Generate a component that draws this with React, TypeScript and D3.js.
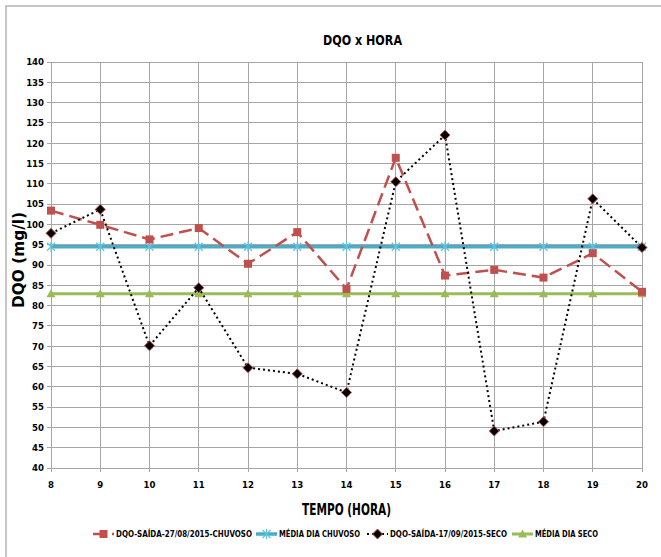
import React from "react";
import * as d3 from "d3";

const hours = [8, 9, 10, 11, 12, 13, 14, 15, 16, 17, 18, 19, 20];
const chuvoso = [103.4, 99.9, 96.3, 99.1, 90.3, 98.1, 84.1, 116.4, 87.4, 88.8, 86.9, 92.9, 83.4];
const mediaChuvoso = [94.5, 94.5, 94.5, 94.5, 94.5, 94.5, 94.5, 94.5, 94.5, 94.5, 94.5, 94.5, 94.5];
const seco = [97.8, 103.7, 70.1, 84.4, 64.7, 63.2, 58.6, 110.5, 122.0, 49.1, 51.4, 106.3, 94.3];
const mediaSeco = [82.9, 82.9, 82.9, 82.9, 82.9, 82.9, 82.9, 82.9, 82.9, 82.9, 82.9, 82.9, 82.9];
const yTicks = [40, 45, 50, 55, 60, 65, 70, 75, 80, 85, 90, 95, 100, 105, 110, 115, 120, 125, 130, 135, 140];
const seriesNames = [
  "DQO-SAÍDA-27/08/2015-CHUVOSO",
  "MÉDIA DIA CHUVOSO",
  "DQO-SAÍDA-17/09/2015-SECO",
  "MÉDIA DIA SECO",
];

const W = 661;
const H = 557;
const m = { left: 51, right: 642, top: 62, bottom: 468 };
const FONT = "'Liberation Sans Narrow', 'DejaVu Sans Condensed', 'Open Sans', sans-serif";

const RED = "#C0504D";
const CYAN = "#4BACC6";
const GREEN = "#9BBB59";
const GRID = "#a6a6a6";

function Marker({ type, x, y }: { type: string; x: number; y: number }) {
  if (type === "square") {
    return <rect x={x - 4} y={y - 4} width={8} height={8} fill={RED} />;
  }
  if (type === "star") {
    return (
      <g stroke="#5fc3dd" strokeWidth={1.2}>
        <line x1={x - 4} y1={y - 4} x2={x + 4} y2={y + 4} />
        <line x1={x - 4} y1={y + 4} x2={x + 4} y2={y - 4} />
        <line x1={x} y1={y - 5} x2={x} y2={y + 5} />
      </g>
    );
  }
  if (type === "diamond") {
    return (
      <path
        d={`M${x},${y - 5}L${x + 5},${y}L${x},${y + 5}L${x - 5},${y}Z`}
        fill="#000"
        stroke={RED}
        strokeWidth={1}
      />
    );
  }
  return <path d={`M${x},${y - 4.5}L${x + 4.5},${y + 3.5}L${x - 4.5},${y + 3.5}Z`} fill={GREEN} />;
}

export default function App() {
  const x = d3.scaleLinear().domain([8, 20]).range([m.left, m.right]);
  const y = d3.scaleLinear().domain([40, 140]).range([m.bottom, m.top]);
  const line = d3
    .line<number>()
    .x((_, i) => x(hours[i]))
    .y((d) => y(d));

  const series = [
    { data: chuvoso, color: RED, width: 2.5, dash: "13,6", marker: "square" },
    { data: mediaChuvoso, color: CYAN, width: 3.5, dash: undefined, marker: "star" },
    { data: seco, color: "#000", width: 2, dash: "2,3", marker: "diamond" },
    { data: mediaSeco, color: GREEN, width: 3, dash: undefined, marker: "triangle" },
  ];
  const drawOrder = [1, 3, 0, 2];

  const legendX = [93, 256, 367, 512];
  const legendW = [136, 81, 117, 63];

  return (
    <svg
      width={W}
      height={H}
      style={{ position: "absolute", left: 0, top: 0, background: "#fff" }}
      fontFamily={FONT}
    >
      <rect x={0} y={0} width={W} height={H} fill="#fff" />
      <rect x={6} y={6} width={W + 10} height={H + 10} fill="none" stroke="#b4b4b4" strokeWidth={1.5} />

      {/* title */}
      <text x={323} y={45} fontSize={14} fontWeight="bold" fill="#000" textLength={79} lengthAdjust="spacingAndGlyphs">
        DQO  x HORA
      </text>

      {/* grid */}
      <g shapeRendering="crispEdges">
        {yTicks.map((t) => (
          <line key={"h" + t} x1={m.left - 4} x2={m.right} y1={y(t)} y2={y(t)} stroke={GRID} strokeWidth={1} />
        ))}
        {hours.map((h) => (
          <line key={"v" + h} x1={x(h)} x2={x(h)} y1={m.top} y2={m.bottom + 4} stroke={GRID} strokeWidth={1} />
        ))}
      </g>

      {/* y tick labels */}
      {yTicks.map((t) => (
        <text key={"yt" + t} x={44} y={y(t)} dy="0.35em" textAnchor="end" fontSize={9.5} fontWeight="bold" fill="#000">
          {t}
        </text>
      ))}
      {/* x tick labels */}
      {hours.map((h) => (
        <text key={"xt" + h} x={x(h)} y={488} textAnchor="middle" fontSize={9.5} fontWeight="bold" fill="#000">
          {h}
        </text>
      ))}

      {/* axis titles */}
      <text
        transform={`translate(24,${260}) rotate(-90)`}
        x={-48}
        fontSize={15}
        fontWeight="bold"
        fill="#000"
        textLength={96}
        lengthAdjust="spacingAndGlyphs"
      >
        DQO (mg/l)
      </text>
      <text x={302} y={515} fontSize={15} fontWeight="bold" fill="#000" textLength={89} lengthAdjust="spacingAndGlyphs">
        TEMPO (HORA)
      </text>

      {/* series */}
      {drawOrder.map((si) => {
        const s = series[si];
        return (
          <g key={"s" + si}>
            <path d={line(s.data) || ""} fill="none" stroke={s.color} strokeWidth={s.width} strokeDasharray={s.dash} />
            {s.data.map((v, i) => (
              <Marker key={i} type={s.marker} x={x(hours[i])} y={y(v)} />
            ))}
          </g>
        );
      })}

      {/* legend */}
      {series.map((s, i) => {
        const lx = legendX[i];
        const ly = 534;
        return (
          <g key={"lg" + i}>
            <line x1={lx} x2={lx + 21} y1={ly} y2={ly} stroke={s.color} strokeWidth={s.width} strokeDasharray={s.dash} />
            <Marker type={s.marker} x={lx + 10.5} y={ly} />
            <text
              x={lx + 23}
              y={ly}
              dy="0.35em"
              fontSize={9}
              fontWeight="bold"
              fill="#000"
              textLength={legendW[i]}
              lengthAdjust="spacingAndGlyphs"
            >
              {seriesNames[i]}
            </text>
          </g>
        );
      })}
    </svg>
  );
}
